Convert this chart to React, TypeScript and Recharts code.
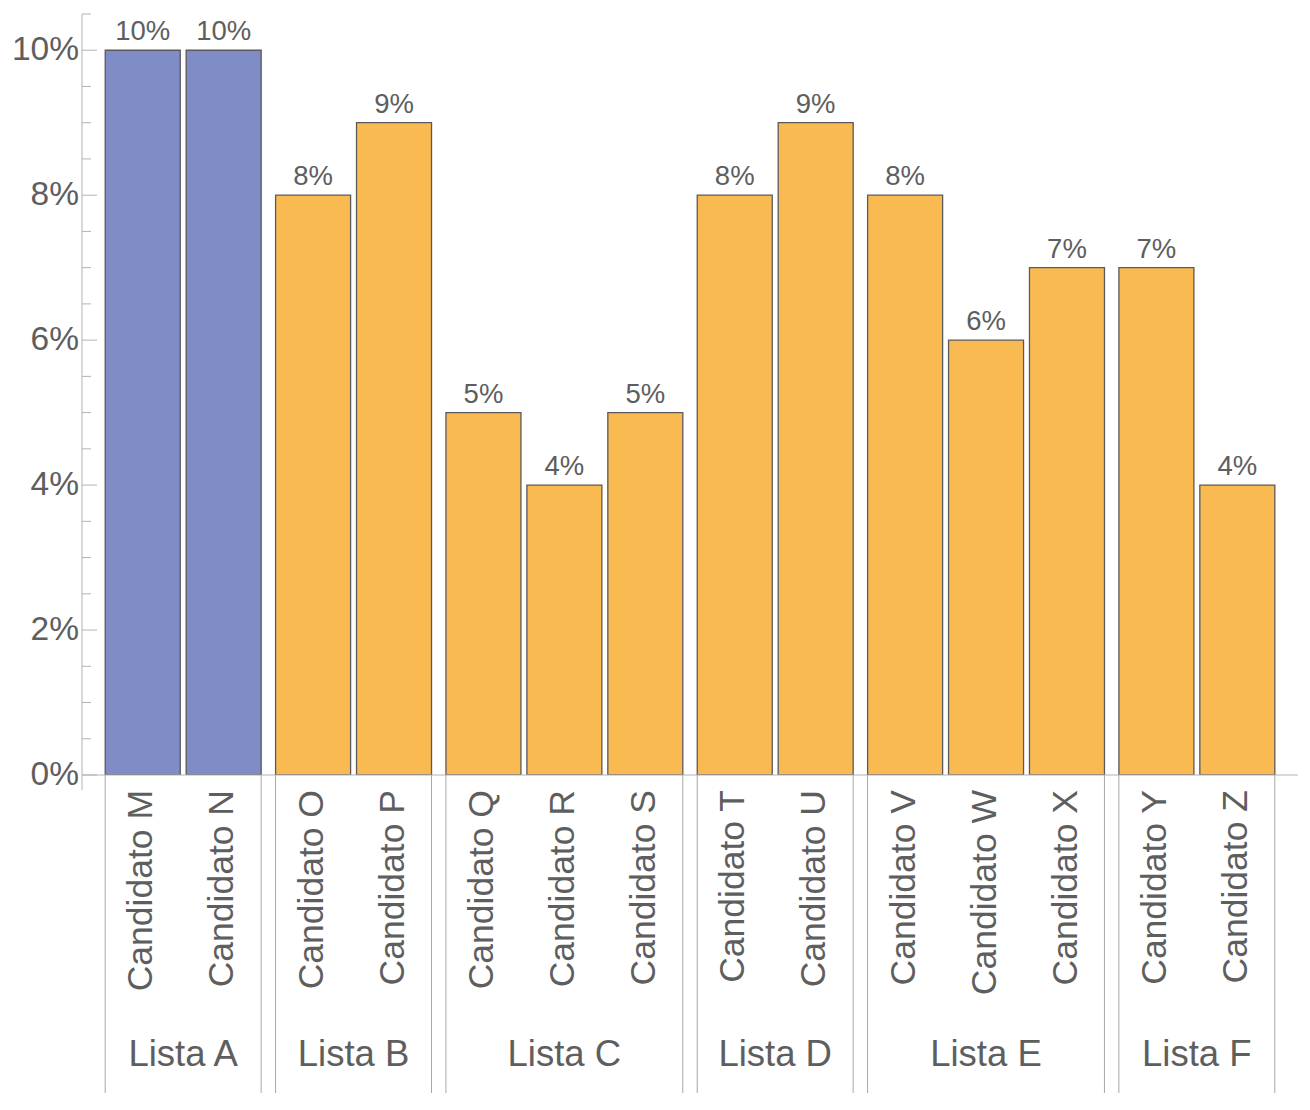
import React from "react";
import { BarChart, Bar, XAxis, YAxis, Cell, LabelList, ReferenceLine } from "recharts";

const candidates = [
  "Candidato M", "Candidato N", "Candidato O", "Candidato P", "Candidato Q",
  "Candidato R", "Candidato S", "Candidato T", "Candidato U", "Candidato V",
  "Candidato W", "Candidato X", "Candidato Y", "Candidato Z",
];
const groupNames = ["Lista A", "Lista B", "Lista C", "Lista D", "Lista E", "Lista F"];
const candidateGroup = [0, 0, 1, 1, 2, 2, 2, 3, 3, 4, 4, 4, 5, 5];
const shares = [10, 10, 8, 9, 5, 4, 5, 8, 9, 8, 6, 7, 7, 4];
const yTicks = [0, 0.5, 1, 1.5, 2, 2.5, 3, 3.5, 4, 4.5, 5, 5.5, 6, 6.5, 7, 7.5, 8, 8.5, 9, 9.5, 10, 10.5];
const yLabelTicks = [0, 2, 4, 6, 8, 10];

const FONT = "'Liberation Sans', Arial, sans-serif";
const TEXT = "#5e5e5e";
const AXIS = "#b3b3b3";
const SEP = "#a8a8a8";
const BLUE = "#7f8cc6";
const ORANGE = "#f9bb51";
const BAR = 75;
const GROUP_GAP = 0.105;
const PAD = 0.75;

const data = candidates.map((name, i) => ({
  name,
  group: candidateGroup[i],
  pos: i + candidateGroup[i] * GROUP_GAP,
  value: shares[i],
}));
const domainLo = data[0].pos - PAD;
const domainHi = data[data.length - 1].pos + PAD;
const groupCenters = groupNames.map((_, g) => {
  const m = data.filter((d) => d.group === g);
  return (m[0].pos + m[m.length - 1].pos) / 2;
});

const CandidateTick = (props: any) => {
  const { x, y, payload } = props;
  const i = data.findIndex((d) => Math.abs(d.pos - payload.value) < 1e-6);
  if (i < 0) return null;
  const d = data[i];
  const first = i === 0 || data[i - 1].group !== d.group;
  const last = i === data.length - 1 || data[i + 1].group !== d.group;
  const ty = y + 15;
  return (
    <g>
      {first && <line x1={x - BAR / 2} x2={x - BAR / 2} y1={y} y2={y + 318} stroke={SEP} strokeWidth={1} />}
      {last && <line x1={x + BAR / 2} x2={x + BAR / 2} y1={y} y2={y + 318} stroke={SEP} strokeWidth={1} />}
      <text
        x={x}
        y={ty}
        transform={`rotate(-90 ${x} ${ty})`}
        textAnchor="end"
        dy="0.27em"
        fontSize={35.5}
        fontFamily={FONT}
        fill={TEXT}
      >
        {d.name}
      </text>
    </g>
  );
};

const GroupTick = (props: any) => {
  const { x, y, payload } = props;
  const g = groupCenters.findIndex((c) => Math.abs(c - payload.value) < 1e-6);
  if (g < 0) return null;
  return (
    <text x={x} y={y + 51} textAnchor="middle" fontSize={36.5} fontFamily={FONT} fill={TEXT}>
      {groupNames[g]}
    </text>
  );
};

const YTick = (props: any) => {
  const { x, y, payload } = props;
  const v = payload.value;
  const major = yLabelTicks.includes(v);
  return (
    <g>
      <line x1={x} x2={x + (major ? 15 : 9)} y1={y} y2={y} stroke={AXIS} strokeWidth={1} />
      {major && (
        <text x={x - 3} y={y} dy="0.3em" textAnchor="end" fontSize={33.5} fontFamily={FONT} fill={TEXT}>
          {v}%
        </text>
      )}
    </g>
  );
};

const ValueLabel = (props: any) => {
  const { x, y, width, value } = props;
  return (
    <text x={x + width / 2} y={y - 10} textAnchor="middle" fontSize={27.5} fontFamily={FONT} fill={TEXT}>
      {value}%
    </text>
  );
};

export default function App() {
  return (
    <div style={{ width: 1302, height: 1100, fontFamily: FONT }}>
      <BarChart width={1302} height={1100} data={data} margin={{ top: 6, right: 12, bottom: 0, left: 0 }}>
        <XAxis
          xAxisId="cand"
          dataKey="pos"
          type="number"
          domain={[domainLo, domainHi]}
          allowDataOverflow
          ticks={data.map((d) => d.pos)}
          interval={0}
          tick={<CandidateTick />}
          tickSize={0}
          tickMargin={0}
          tickLine={false}
          axisLine={{ stroke: AXIS, strokeWidth: 1 }}
          height={240}
        />
        <XAxis
          xAxisId="grp"
          dataKey="pos"
          type="number"
          domain={[domainLo, domainHi]}
          allowDataOverflow
          ticks={groupCenters}
          interval={0}
          tick={<GroupTick />}
          tickSize={0}
          tickMargin={0}
          tickLine={false}
          axisLine={false}
          height={93}
        />
        <YAxis
          type="number"
          domain={[0, 10.5]}
          allowDataOverflow
          ticks={yTicks}
          interval={0}
          width={74}
          tick={<YTick />}
          tickSize={0}
          tickMargin={0}
          tickLine={false}
          axisLine={{ stroke: AXIS, strokeWidth: 1 }}
        />
        <ReferenceLine
          xAxisId="cand"
          segment={[{ x: domainLo, y: 0 }, { x: domainLo, y: -0.21 }]}
          ifOverflow="visible"
          stroke={AXIS}
          strokeWidth={1}
        />
        <Bar
          xAxisId="cand"
          dataKey="value"
          barSize={BAR}
          isAnimationActive={false}
          stroke="#5a5a5a"
          strokeWidth={1.3}
        >
          {data.map((d, i) => (
            <Cell key={i} fill={d.group === 0 ? BLUE : ORANGE} />
          ))}
          <LabelList dataKey="value" content={<ValueLabel />} />
        </Bar>
      </BarChart>
    </div>
  );
}
